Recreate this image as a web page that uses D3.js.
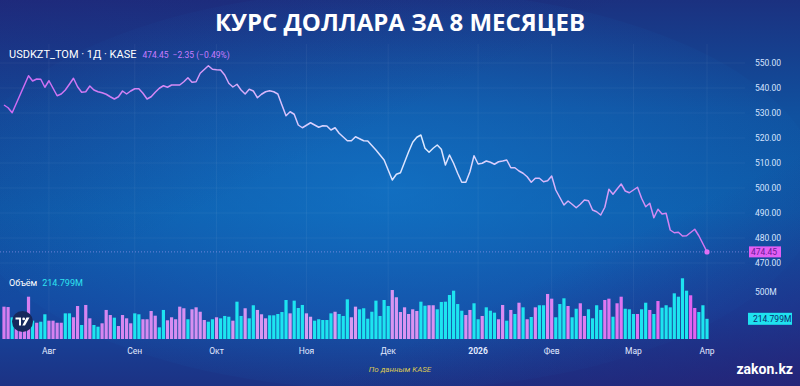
<!DOCTYPE html>
<html>
<head>
<meta charset="utf-8">
<script src="https://cdn.jsdelivr.net/npm/d3@7"></script>
<style>
  body { margin: 0; background: #133c8c; }
  svg { display: block; }
</style>
</head>
<body>
<svg id="chart"></svg>
<script>
// closing prices USDKZT_TOM, one per trading day
const prices = [
  533.2, 532.1, 530.1, 533.8, 537.5, 541.2, 544.9, 542.8, 543.6, 543.5,
  540.3, 542.9, 539.9, 536.9, 537.6, 539.2, 541.5, 543.9, 540.5, 538.3,
  538.5, 540.8, 539.2, 538.5, 538.1, 537.5, 536.5, 535.6, 536.5, 538.8,
  537.6, 538.8, 539.7, 539.7, 537.9, 535.6, 536.5, 538.3, 539.9, 540.9,
  540.3, 541.2, 541.2, 541.2, 542.5, 544.1, 542.3, 542.5, 545.9, 547.4,
  548.9, 547.5, 547.3, 547.2, 545.2, 541.9, 540.4, 541.5, 539.2, 537.6,
  539.5, 538.8, 536.1, 537.5, 538.5, 538.9, 538.5, 537.6, 533.2, 528.9,
  530.5, 529.5, 525.2, 524.1, 525.1, 526.1, 525.2, 524.3, 524.9, 524.8,
  523.2, 524.1, 521.9, 520.4, 518.9, 518.9, 520.5, 519.7, 518.9, 518.8,
  517.0, 515.2, 513.2, 511.2, 507.2, 503.2, 505.5, 506.1, 510.3, 514.5,
  518.3, 520.3, 521.2, 515.9, 514.3, 515.9, 517.2, 515.5, 509.2, 513.2,
  509.9, 505.9, 502.3, 502.3, 506.5, 512.9, 509.6, 509.9, 510.8, 510.3,
  509.5, 510.5, 510.8, 511.2, 508.1, 508.1, 506.8, 505.9, 504.5, 502.3,
  503.9, 503.9, 502.5, 502.9, 504.8, 499.2, 496.2, 493.2, 494.8, 493.5,
  492.1, 493.5, 495.2, 494.9, 491.2, 490.5, 489.2, 492.3, 499.5, 497.5,
  499.6, 501.6, 498.8, 498.1, 499.2, 500.3, 495.9, 492.5, 493.9, 488.1,
  491.5, 489.6, 489.9, 483.2, 482.1, 482.3, 480.8, 480.9, 482.2, 483.5,
  480.9, 477.7, 474.45
];

// daily volume, millions
const volumes = [
  344, 340, 230, 180, 190, 255, 450, 195, 173, 184, 263, 195, 195, 173, 173,
  273, 273, 231, 351, 149, 362, 220, 149, 131, 167, 309, 255, 227, 138, 255,
  220, 167, 273, 263, 210, 210, 298, 248, 124, 309, 199,
  231, 210, 344, 327, 210, 316, 337, 290, 202, 184, 210, 231, 220, 245, 237,
  195, 397, 245, 327, 220, 359, 309, 263, 220, 252, 252, 266, 287, 415, 273,
  408, 330, 362, 273, 237, 195, 210, 202, 202, 273, 290, 266, 245, 422,
  231, 344, 316, 327, 216, 290, 408, 245, 415, 351, 521, 444, 287, 337, 266,
  316, 298, 397, 354, 359, 359, 316, 394, 397, 468, 514, 372, 301, 255, 309,
  380, 210, 245, 337, 301, 280, 210, 362, 195, 309, 266, 386, 337, 210,
  234, 337, 359, 359, 479, 429, 231, 372, 433, 351, 231, 322, 380, 245, 316,
  220, 359, 309, 415, 429, 237, 380, 450, 322, 316, 266, 266, 316, 386, 309,
  266, 404, 333, 359, 337, 486, 450, 646, 514, 465, 330, 287, 359, 214.799
];

// bar colour per day: p = violet, c = cyan
const volKind = (
  "ppcpp" + "ppcpc" + "cpppp" + "ccppc" + "ppccp" + "ppcpp" + "ppccp" + "pppcc" + "p" +
  "ppppc" + "ppppc" + "cpccc" + "pccpc" + "cpppc" + "ccccp" + "cccpp" + "ccccc" + "pccc" +
  "ppccc" + "ccccc" + "ppppp" + "ppccp" + "pcccc" + "cccpp" + "ccpcc" + "cppcp" + "cpcp" +
  "cpccp" + "pcccp" + "ccppc" + "cccpp" + "cppcc" + "cpccp" + "cpccc" + "ccccp" + "pccc"
).split("");

const monthTicks = [11, 32, 52, 74, 94, 116, 134, 154, 172];
const monthLabels = ["Авг", "Сен", "Окт", "Ноя", "Дек", "2026", "Фев", "Мар", "Апр"];
const priceTicks = [470, 480, 490, 500, 510, 520, 530, 540, 550];
const volumeTicks = [500];

const title = "КУРС ДОЛЛАРА ЗА 8 МЕСЯЦЕВ";
const symbol = "USDKZT_TOM · 1Д · KASE";
const change = "−2.35 (−0.49%)";
const source = "По данным KASE";

const W = 800, H = 386;
const svg = d3.select("#chart").attr("width", W).attr("height", H);
const defs = svg.append("defs");
const font = "Roboto, 'Open Sans', sans-serif";

// background
const bg = defs.append("linearGradient").attr("id", "bg")
  .attr("x1", 0).attr("y1", 0).attr("x2", 0).attr("y2", 1);
bg.selectAll("stop").data([
  ["0%", "#1b3180"], ["30%", "#10519f"], ["55%", "#0d5aa8"], ["80%", "#1548a0"], ["100%", "#1c3284"]
]).join("stop").attr("offset", d => d[0]).attr("stop-color", d => d[1]);

const glow = defs.append("radialGradient").attr("id", "glow")
  .attr("cx", 0.5).attr("cy", 0.5).attr("r", 0.55);
glow.selectAll("stop").data([
  ["0%", "rgba(20,125,210,0.6)"], ["100%", "rgba(20,120,205,0)"]
]).join("stop").attr("offset", d => d[0]).attr("stop-color", d => d[1]);

const purple = defs.append("linearGradient").attr("id", "purple")
  .attr("x1", 0).attr("y1", 0).attr("x2", 1).attr("y2", 1);
purple.selectAll("stop").data([
  ["0%", "rgba(40,20,110,0.25)"], ["40%", "rgba(40,20,110,0)"], ["70%", "rgba(40,20,110,0)"], ["100%", "rgba(45,25,110,0.55)"]
]).join("stop").attr("offset", d => d[0]).attr("stop-color", d => d[1]);

svg.append("rect").attr("width", W).attr("height", H).attr("fill", "url(#bg)");
svg.append("ellipse").attr("cx", 390).attr("cy", 190).attr("rx", 430).attr("ry", 200).attr("fill", "url(#glow)");
svg.append("rect").attr("width", W).attr("height", H).attr("fill", "url(#purple)");

// scales
const N = prices.length;
const x = d3.scaleLinear().domain([0, N - 1]).range([4, 707]);
const y = d3.scaleLinear().domain([470, 550]).range([263, 63]);
const yVol = d3.scaleLinear().domain([0, 500]).range([339, 292]);

// faint grid
const grid = svg.append("g").attr("stroke", "#ffffff").attr("stroke-opacity", 0.05);
grid.selectAll("line.v").data(monthTicks).join("line").attr("class", "v")
  .attr("x1", d => x(d)).attr("x2", d => x(d)).attr("y1", 44).attr("y2", 340);
grid.selectAll("line.h").data(priceTicks).join("line").attr("class", "h")
  .attr("x1", 0).attr("x2", 745).attr("y1", d => y(d)).attr("y2", d => y(d));

// title
svg.append("text").attr("x", W / 2).attr("y", 31).attr("text-anchor", "middle")
  .attr("font-family", "'Open Sans', Roboto, sans-serif").attr("font-weight", 700)
  .attr("font-size", 24).attr("fill", "#ffffff").text(title);

// volume bars
const pinkGrad = defs.append("linearGradient").attr("id", "pinkBar")
  .attr("gradientUnits", "userSpaceOnUse").attr("x1", 0).attr("x2", 710).attr("y1", 0).attr("y2", 0);
pinkGrad.selectAll("stop").data([
  ["0%", "#d67cf0"], ["45%", "#d79cf2"], ["75%", "#dc88f2"], ["100%", "#e25ff0"]
]).join("stop").attr("offset", d => d[0]).attr("stop-color", d => d[1]);

svg.append("g").selectAll("rect").data(volumes).join("rect")
  .attr("x", (d, i) => x(i) - 1.6)
  .attr("width", 3.2)
  .attr("y", d => yVol(d))
  .attr("height", d => yVol(0) - yVol(d))
  .attr("fill", (d, i) => volKind[i] === "p" ? "url(#pinkBar)" : "#1de4f0");

// TradingView badge
const tv = svg.append("g").attr("transform", "translate(22.5,321.5)");
tv.append("circle").attr("r", 10.5).attr("fill", "#16285c");
tv.append("path").attr("fill", "#ffffff")
  .attr("d", "M-7,-4 H-1.5 V4 H-3.5 V-2 H-7 Z M4,-4 H7 L2.5,4 H-0.2 Z");
tv.append("circle").attr("cx", 1.2).attr("cy", -2.6).attr("r", 1.4).attr("fill", "#ffffff");

// price line
const lineGrad = defs.append("linearGradient").attr("id", "lineGrad")
  .attr("gradientUnits", "userSpaceOnUse").attr("x1", 0).attr("x2", 710).attr("y1", 0).attr("y2", 0);
lineGrad.selectAll("stop").data([
  ["0%", "#cc68f2"], ["25%", "#d58cf6"], ["45%", "#d8d2ff"], ["60%", "#dceaff"], ["78%", "#d6b4fb"], ["100%", "#d272f0"]
]).join("stop").attr("offset", d => d[0]).attr("stop-color", d => d[1]);

const line = d3.line().x((d, i) => x(i)).y(d => y(d));
svg.append("path").datum(prices).attr("d", line)
  .attr("fill", "none").attr("stroke", "url(#lineGrad)")
  .attr("stroke-width", 1.5).attr("stroke-linejoin", "round");

// last price marker
const last = prices[N - 1];
svg.append("line").attr("x1", 0).attr("x2", 748).attr("y1", y(last)).attr("y2", y(last))
  .attr("stroke", "#b9a6ff").attr("stroke-opacity", 0.55).attr("stroke-dasharray", "1,2");
svg.append("circle").attr("cx", x(N - 1)).attr("cy", y(last)).attr("r", 2.6).attr("fill", "#e070f5");

// right price axis
const axis = svg.append("g").attr("font-family", font).attr("font-size", 8.5).attr("fill", "#d5e3ff");
axis.selectAll("text.p").data(priceTicks).join("text").attr("class", "p")
  .attr("x", 755).attr("y", d => y(d) + 3).text(d => d.toFixed(2));
axis.selectAll("text.v").data(volumeTicks).join("text").attr("class", "v")
  .attr("x", 755).attr("y", d => yVol(d) + 3).text(d => d + "M");

svg.append("rect").attr("x", 749).attr("y", y(last) - 5.5).attr("width", 32).attr("height", 11)
  .attr("fill", "#e35ef4");
svg.append("text").attr("x", 751).attr("y", y(last) + 3).attr("font-family", font).attr("font-size", 8.5)
  .attr("fill", "#6a1a96").text(last.toFixed(2));

const lastVol = volumes[volumes.length - 1];
svg.append("rect").attr("x", 748).attr("y", yVol(lastVol) - 6).attr("width", 44).attr("height", 12)
  .attr("fill", "#1fe2ef");
svg.append("text").attr("x", 753).attr("y", yVol(lastVol) + 3).attr("font-family", font).attr("font-size", 8.5)
  .attr("fill", "#0b2a6e").text(lastVol.toFixed(3) + "M");

// month axis
svg.append("g").selectAll("text").data(monthTicks).join("text")
  .attr("x", d => x(d)).attr("y", 354).attr("text-anchor", "middle")
  .attr("font-family", font).attr("font-size", 8.5)
  .attr("font-weight", (d, i) => monthLabels[i] === "2026" ? 700 : 400)
  .attr("fill", "#e2eaff").text((d, i) => monthLabels[i]);

// legends
const leg = svg.append("text").attr("x", 9).attr("y", 58).attr("font-family", font).attr("font-size", 11);
leg.append("tspan").attr("fill", "#ffffff").text(symbol);
leg.append("tspan").attr("dx", 6).attr("fill", "#c77cff").attr("font-size", 8.5).text(last.toFixed(2));
leg.append("tspan").attr("dx", 4).attr("fill", "#c77cff").attr("font-size", 8.5).text(change);

const vleg = svg.append("text").attr("x", 9).attr("y", 286).attr("font-family", font).attr("font-size", 9);
vleg.append("tspan").attr("fill", "#ffffff").text("Объём");
vleg.append("tspan").attr("dx", 5).attr("fill", "#2fe3f0").text(lastVol.toFixed(3) + "M");

// footer
svg.append("text").attr("x", 400).attr("y", 372).attr("text-anchor", "middle")
  .attr("font-family", font).attr("font-size", 8).attr("font-style", "italic")
  .attr("fill", "#d8c655").text(source);
svg.append("text").attr("x", 793).attr("y", 374).attr("text-anchor", "end")
  .attr("font-family", font).attr("font-weight", 700).attr("font-size", 14)
  .attr("fill", "#ffffff").text("zakon.kz");
</script>
</body>
</html>
